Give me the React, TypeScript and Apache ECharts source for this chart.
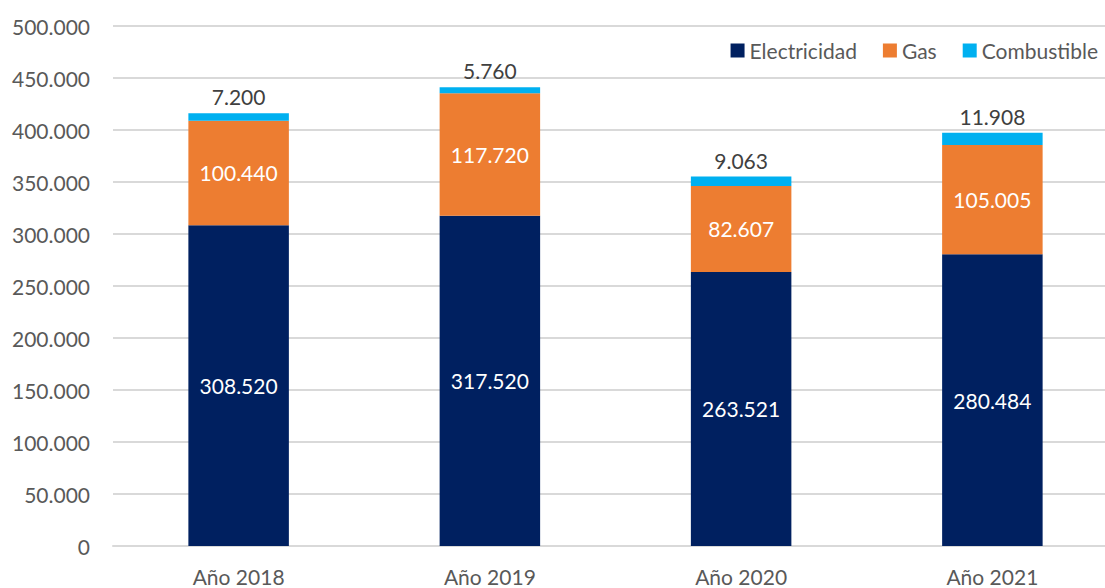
import React, { useEffect, useRef } from "react";
import * as echarts from "echarts";

const categories = ["Año 2018", "Año 2019", "Año 2020", "Año 2021"];
const electricidad = [308520, 317520, 263521, 280484];
const gas = [100440, 117720, 82607, 105005];
const combustible = [7200, 5760, 9063, 11908];

const fmt = (v: number) =>
  String(Math.round(v)).replace(/\B(?=(\d{3})+(?!\d))/g, ".");

const FONT = "Lato";

export default function App() {
  const ref = useRef<HTMLDivElement>(null);
  useEffect(() => {
    if (!ref.current) return;
    const chart = echarts.init(ref.current, undefined, { renderer: "svg" });
    const labelInside = {
      show: true,
      position: "inside" as const,
      color: "#ffffff",
      fontFamily: FONT,
      fontSize: 21,
      formatter: (p: any) => fmt(p.value),
    };
    chart.setOption({
      animation: false,
      textStyle: { fontFamily: FONT },
      grid: {
        left: 113,
        width: 1005,
        top: 26,
        bottom: 42,
        containLabel: false,
        outerBoundsMode: "none",
      },
      legend: {
        right: 2,
        top: 35,
        itemWidth: 14,
        itemHeight: 14,
        itemGap: 26,
        icon: "rect",
        textStyle: { color: "#595959", fontSize: 21, fontFamily: FONT },
        data: ["Electricidad", "Gas", "Combustible"],
      },
      xAxis: {
        type: "category",
        data: categories,
        axisLine: { show: true, lineStyle: { color: "#d9d9d9", width: 2 } },
        axisTick: { show: false },
        axisLabel: { color: "#595959", fontSize: 21, fontFamily: FONT, margin: 20 },
      },
      yAxis: {
        type: "value",
        min: 0,
        max: 500000,
        interval: 50000,
        axisLine: { show: false },
        axisTick: { show: false },
        splitLine: { lineStyle: { color: "#d9d9d9", width: 2 } },
        axisLabel: {
          color: "#595959",
          fontSize: 21,
          fontFamily: FONT,
          margin: 23,
          formatter: (v: number) => fmt(v),
        },
      },
      series: [
        {
          name: "Electricidad",
          type: "bar",
          stack: "total",
          data: electricidad,
          barWidth: "40%",
          itemStyle: { color: "#002060" },
          label: labelInside,
        },
        {
          name: "Gas",
          type: "bar",
          stack: "total",
          data: gas,
          itemStyle: { color: "#ED7D31" },
          label: labelInside,
        },
        {
          name: "Combustible",
          type: "bar",
          stack: "total",
          data: combustible,
          itemStyle: { color: "#00B0F0" },
          label: {
            show: true,
            position: "top",
            distance: 6,
            color: "#404040",
            fontFamily: FONT,
            fontSize: 21,
            formatter: (p: any) => fmt(p.value),
          },
        },
      ],
    });
    return () => chart.dispose();
  }, []);
  return (
    <div
      ref={ref}
      style={{ position: "fixed", left: 0, top: 0, width: 1105, height: 588, background: "#fff" }}
    />
  );
}
